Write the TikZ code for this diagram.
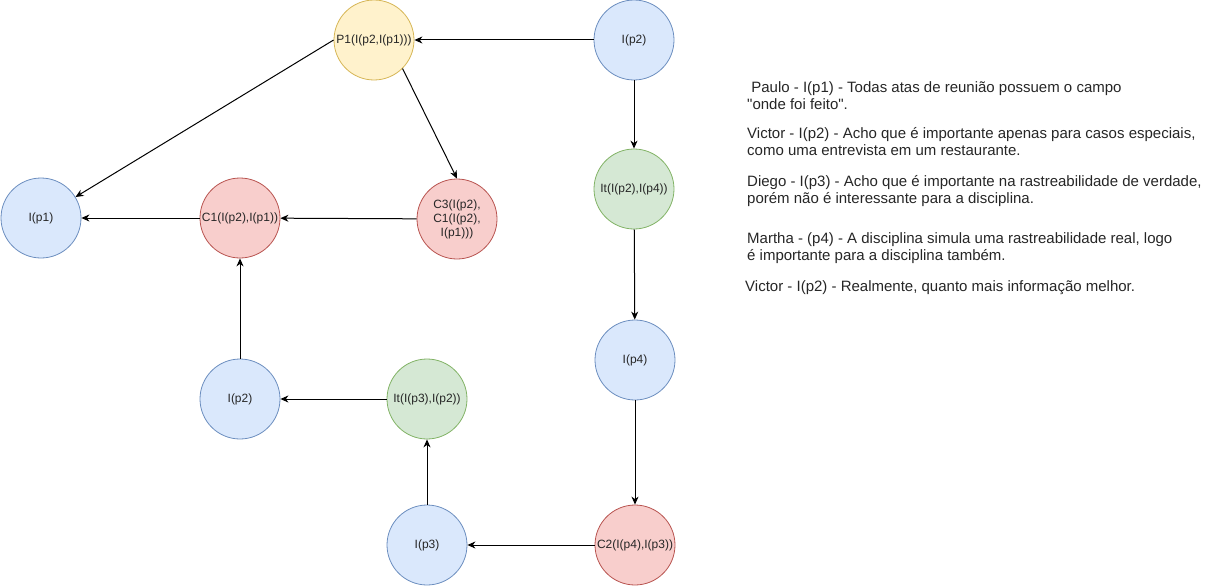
\documentclass[tikz,border=0pt]{standalone}
\usepackage{fontspec}
\setmainfont{Liberation Sans}
\usepackage{xcolor}
\usetikzlibrary{arrows.meta,positioning}

\definecolor{bluefill}{HTML}{DAE8FC}
\definecolor{bluedraw}{HTML}{6C8EBF}
\definecolor{yellowfill}{HTML}{FFF2CC}
\definecolor{yellowdraw}{HTML}{D6B656}
\definecolor{redfill}{HTML}{F8CECC}
\definecolor{reddraw}{HTML}{B85450}
\definecolor{greenfill}{HTML}{D5E8D4}
\definecolor{greendraw}{HTML}{82B366}

\begin{document}
\begin{tikzpicture}[x=1pt, y=-1pt, >={Stealth[length=8pt,width=7pt,inset=2.5pt]},
    every node/.style={font=\fontsize{12}{14}\selectfont, text=black!85},
    arg/.style={circle, draw=#1draw, fill=#1fill, line width=0.8pt, minimum size=80pt, inner sep=0pt, align=center},
    link/.style={->, line width=1pt},
    note/.style={anchor=base west, align=left, inner sep=0pt, font=\fontsize{15}{17}\selectfont}]
\useasboundingbox (0,0) rectangle (1215,586);

% nodes of the argument graph
\node[arg=yellow] (p1node) at (374,40) {P1(I(p2,I(p1)))};
\node[arg=blue] (ip2top) at (634,40) {I(p2)};
\node[arg=blue] (ip1) at (41,218) {I(p1)};
\node[arg=red] (c1) at (240,218) {C1(I(p2),I(p1))};
\node[arg=red] (c3) at (457,219) {C3(I(p2),\\C1(I(p2),\\I(p1)))};
\node[arg=green] (it24) at (634,189) {It(I(p2),I(p4))};
\node[arg=blue] (ip4) at (635,360) {I(p4)};
\node[arg=blue] (ip2low) at (240,399) {I(p2)};
\node[arg=green] (it32) at (427,399) {It(I(p3),I(p2))};
\node[arg=blue] (ip3) at (427,545) {I(p3)};
\node[arg=red] (c2) at (635,545) {C2(I(p4),I(p3))};

% connectors
\draw[link] (ip2top) -- (p1node);
\draw[link] (p1node.west) -- (ip1);
\draw[link] (p1node.-45) -- (c3.north);
\draw[link] (c3) -- (c1);
\draw[link] (c1) -- (ip1);
\draw[link] (ip2low) -- (c1);
\draw[link] (it32) -- (ip2low);
\draw[link] (ip3) -- (it32);
\draw[link] (c2) -- (ip3);
\draw[link] (ip4) -- (c2);
\draw[link] (it24) -- (ip4);
\draw[link] (ip2top) -- (it24);

% comments of the participants (base = last line)
\node[note] (paulo) at (747,109) {\ Paulo - I(p1) - Todas atas de reunião possuem o campo\\\textquotedbl onde foi feito\textquotedbl.};
\node[note] (victor1) at (747,155) {Victor - I(p2) - Acho que é importante apenas para casos especiais,\\como uma entrevista em um restaurante.};
\node[note] (diego) at (747,203) {Diego - I(p3) - Acho que é importante na rastreabilidade de verdade,\\porém não é interessante para a disciplina.};
\node[note] (martha) at (747,260) {Martha - (p4) - A disciplina simula uma rastreabilidade real, logo\\é importante para a disciplina também.};
\node[note] (victor2) at (745,291) {Victor - I(p2) - Realmente, quanto mais informação melhor.};
\end{tikzpicture}
\end{document}
